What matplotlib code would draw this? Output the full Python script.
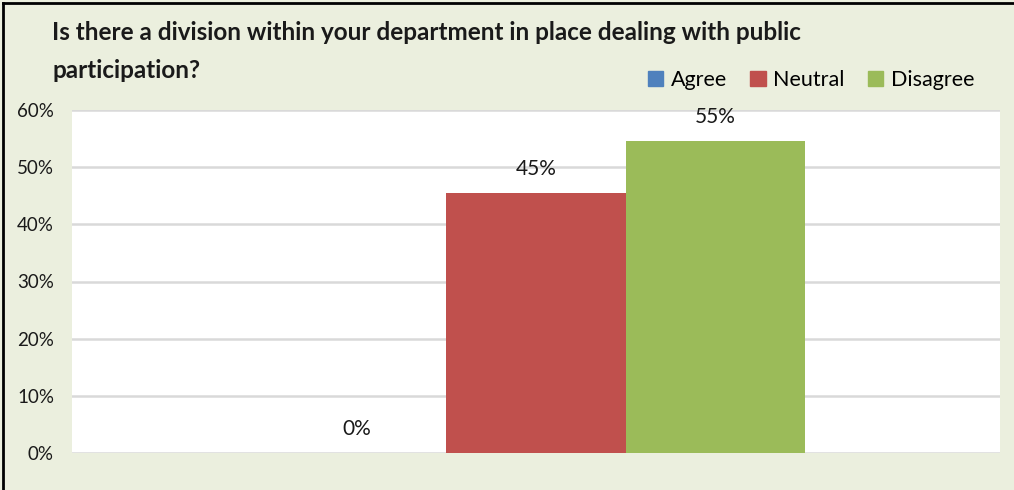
import matplotlib
matplotlib.use("Agg")
import matplotlib.pyplot as plt
from matplotlib.lines import Line2D
import numpy as np

# Survey answers (share of respondents, %)
series = ["Agree", "Neutral", "Disagree"]
values = [0.0, 45.45, 54.55]
labels = ["0%", "45%", "55%"]
colors = ["#4F81BD", "#C0504D", "#9BBB59"]
yticks = [0, 10, 20, 30, 40, 50, 60]
title_lines = ["Is there a division within your department in place dealing with public",
               "participation?"]

plt.rcParams["font.family"] = ["Lato", "DejaVu Sans"]

fig = plt.figure(figsize=(10.14, 4.90), dpi=100)
fig.patch.set_facecolor("#EBEFDE")

ax = fig.add_axes([72 / 1014, 1 - 453 / 490, 928 / 1014, 343 / 490])
ax.set_facecolor("white")

width = 0.193
offsets = np.array([-1, 0, 1]) * width
for off, val, lab, col, name in zip(offsets, values, labels, colors, series):
    ax.bar(off, val, width=width, color=col, label=name, zorder=3)
    ax.annotate(lab, (off, val), xytext=(0, 10), textcoords="offset points",
                ha="center", va="bottom", fontsize=15, color="#1a1a1a")

ax.set_xlim(-0.5, 0.5)
ax.set_ylim(0, 60)
ax.set_yticks(yticks)
ax.set_yticklabels([f"{t}%" for t in yticks], fontsize=13.5, color="#1a1a1a")
ax.set_xticks([])
ax.tick_params(axis="y", length=0, pad=13)
ax.grid(axis="y", color="#D9D9D9", linewidth=1.8, zorder=0)
for s in ax.spines.values():
    s.set_visible(False)

# title drawn line by line (the wrapped second line sits left of the legend)
for i, line in enumerate(title_lines):
    fig.text(52 / 1014, 1 - (33 + 37 * i) / 490, line, ha="left", va="center",
             fontsize=17.5, fontweight="bold", color="#1a1a1a")

handles = [plt.Rectangle((0, 0), 1, 1, color=c) for c in colors]
fig.legend(handles, series, loc="center right", bbox_to_anchor=(985 / 1014, 1 - 80 / 490),
           ncol=3, frameon=False, fontsize=15.5, handlelength=0.7, handleheight=0.7,
           handletextpad=0.35, columnspacing=1.1, borderpad=0)

# chart frame on left and top edges
fig.add_artist(Line2D([3 / 1014, 3 / 1014], [0, 1 - 3 / 490], color="black", linewidth=2,
                      transform=fig.transFigure))
fig.add_artist(Line2D([3 / 1014, 1], [1 - 3 / 490, 1 - 3 / 490], color="black", linewidth=2,
                      transform=fig.transFigure))

fig.savefig("out.png", dpi=100, facecolor=fig.get_facecolor())
